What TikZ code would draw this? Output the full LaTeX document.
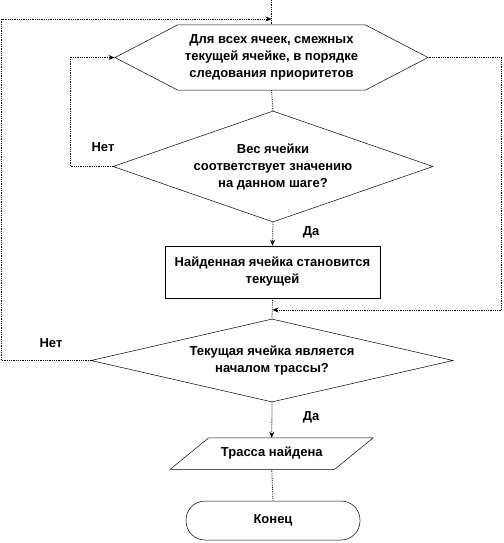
\documentclass[tikz,border=0pt]{standalone}
\usepackage{fontspec}
\setmainfont{Liberation Sans}
\usepackage{tikz}
\usetikzlibrary{arrows.meta,positioning,shapes.geometric,shapes.symbols}

\tikzset{
  blk/.style={draw,line width=0.5pt,align=center,inner sep=0pt,
    font=\bfseries\fontsize{13}{17}\selectfont},
  lbl/.style={font=\bfseries\fontsize{13}{14}\selectfont},
  conn/.style={densely dotted,line width=0.8pt}
}

\begin{document}
\begin{tikzpicture}[x=1pt,y=-1pt,>={Stealth[length=6pt,width=5pt]}]
    \useasboundingbox (0,0) rectangle (503,543);

    \node[blk,signal,signal to=east and west,signal pointer angle=55,
      minimum width=313pt,minimum height=65pt] (hex) at (271.5,57.5)
      {Для всех ячеек, смежных\\текущей ячейке, в порядке\\следования приоритетов};
    \node[blk,diamond,shape aspect=2.88,minimum width=320pt,minimum height=111pt] (d1) at (273,166.5)
      {Вес ячейки\\соответствует значению\\на данном шаге?};
    \node[blk,rectangle,minimum width=215pt,minimum height=52pt] (rect) at (272.5,272)
      {Найденная ячейка становится\\текущей};
    \node[blk,diamond,shape aspect=4.36,minimum width=362pt,minimum height=83pt] (d2) at (272,360.5)
      {Текущая ячейка является\\началом трассы?};
    \node[blk,draw=none,rectangle,minimum width=164pt,minimum height=31pt] (out) at (271.75,453.5)
      {Трасса найдена};
    \node[blk,rectangle,rounded corners=19pt,minimum width=174pt,minimum height=39pt] (end) at (273,520.5)
      {Конец};

    % parallelogram round the output node
    \draw[line width=0.5pt] ([xshift=19.25pt]out.north west) -- ([xshift=19.25pt]out.north east)
      -- ([xshift=-19.25pt]out.south east) -- ([xshift=-19.25pt]out.south west) -- cycle;

    \node[lbl] (no1) at (103,147) {Нет};
    \node[lbl] (yes1) at (311,232) {Да};
    \node[lbl] (no2) at (51,343) {Нет};
    \node[lbl] (yes2) at (311,417) {Да};

    \coordinate (top) at (271.5,0);
    \coordinate (in1) at (271.5,19);
    \coordinate (in2) at (272.5,310);

    \draw[conn] (top) -- (hex.north);
    \draw[conn] (hex.south) -- (d1.north);
    \draw[conn,->] (d1.south) -- (rect.north);
    \draw[conn] (rect.south) -- (d2.north);
    \draw[conn,->] (d2.south) -- (out.north);
    \draw[conn] (out.south) -- (end.north);

    \draw[conn,->] (d1.west) -- (70,166.5) -- (70,57.5) -- (hex.west);
    \draw[conn,->] (hex.east) -- (501.5,57.5) -- (501.5,310) -- (in2);
    \draw[conn,->] (d2.west) -- (1.5,360.5) -- (1.5,19) -- (in1);
\end{tikzpicture}
\end{document}
